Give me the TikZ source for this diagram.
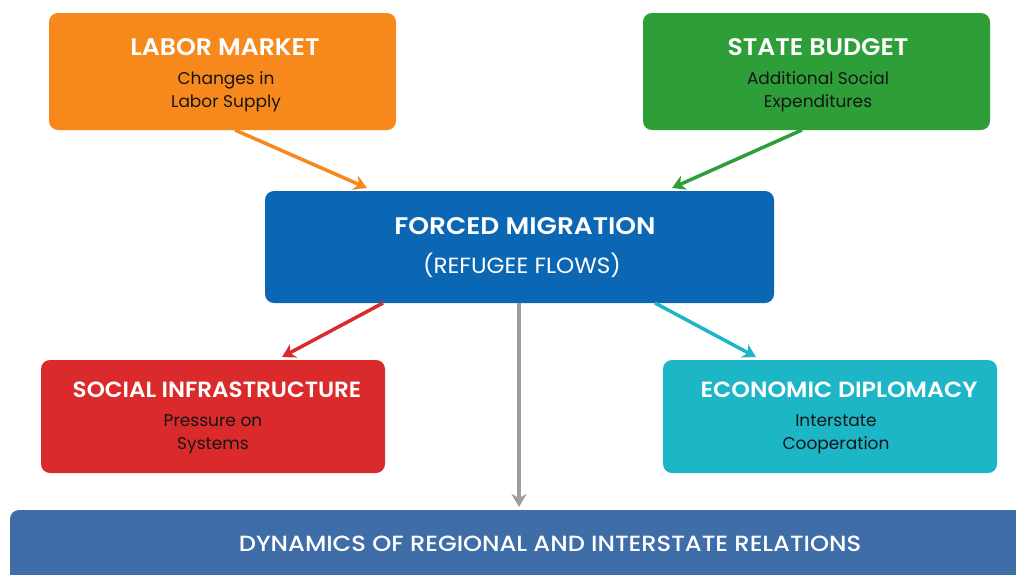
\documentclass[tikz,border=0pt]{standalone}
\usepackage{fontspec}
\setmainfont{Poppins}
\newfontfamily\popb{Poppins}[UprightFont={* SemiBold}]
\newfontfamily\popm{Poppins}[UprightFont={* Medium}]
\usetikzlibrary{arrows.meta}
\definecolor{corange}{HTML}{F7891C}
\definecolor{cgreen}{HTML}{2E9E38}
\definecolor{cblue}{HTML}{0B66B4}
\definecolor{cred}{HTML}{DA2A2B}
\definecolor{ccyan}{HTML}{1CB6C6}
\definecolor{cbottom}{HTML}{3F6DA7}
\definecolor{cgray}{HTML}{9E9E9E}
\definecolor{ctext}{HTML}{151515}
\tikzset{
  box/.style={rounded corners=9pt, draw=none},
  ttl/.style={text=white, font=\popb\fontsize{22}{26}\selectfont, inner sep=0pt},
  sub/.style={text=ctext, font=\fontsize{17}{23}\selectfont, align=center, inner sep=0pt},
  conn/.style={line width=3.5pt, -{Stealth[length=13pt,width=15pt,inset=4pt]}},
}
\begin{document}
\begin{tikzpicture}[x=1pt,y=-1pt]
\useasboundingbox (0,0) rectangle (1016,574);
% boxes
\fill[box, corange] (49,13) rectangle (396,130);
\node (lm) at (222.5,71.5) {};
\fill[box, cgreen] (643,13) rectangle (990,130);
\node (sb) at (816.5,71.5) {};
\fill[box, cblue] (265,191) rectangle (774,303);
\node (fm) at (519.5,247) {};
\fill[box, cred] (41,360) rectangle (385,473);
\node (si) at (213,416.5) {};
\fill[box, ccyan] (663,360) rectangle (997,473);
\node (ed) at (830,416.5) {};
\fill[box, cbottom] (10,510) rectangle (1030,600);
\node (bt) at (513,544) {};
% texts
\node[ttl, font=\popb\fontsize{24}{28}\selectfont, xscale=1.05] (lmt) at (225,47) {LABOR MARKET};
\node[sub] (lms) at (226,92) {Changes in\\Labor Supply};
\node[ttl, font=\popb\fontsize{24}{28}\selectfont, xscale=1.05] (sbt) at (818,47) {STATE BUDGET};
\node[sub] (sbs) at (818,92) {Additional Social\\Expenditures};
\node[ttl, font=\popb\fontsize{24}{28}\selectfont, xscale=1.1] (fmt) at (525,226) {FORCED MIGRATION};
\node[text=white, font=\fontsize{22}{26}\selectfont, inner sep=0pt, xscale=1.05] (fms) at (522,265) {(REFUGEE FLOWS)};
\node[ttl, xscale=1.05] (sit) at (217,390) {SOCIAL INFRASTRUCTURE};
\node[sub] (sis) at (213,434) {Pressure on\\Systems};
\node[ttl, xscale=1.08] (edt) at (839,390) {ECONOMIC DIPLOMACY};
\node[sub] (eds) at (836,434) {Interstate\\Cooperation};
\node[text=white, font=\popm\fontsize{22}{26}\selectfont, inner sep=0pt, xscale=1.1] (btt) at (550,544) {DYNAMICS OF REGIONAL AND INTERSTATE RELATIONS};
% connectors
\coordinate (a1) at (235,130); \coordinate (a2) at (367,188);
\coordinate (b1) at (802,130); \coordinate (b2) at (672,188);
\coordinate (c1) at (383,303); \coordinate (c2) at (282,357);
\coordinate (d1) at (655,303); \coordinate (d2) at (756,357);
\coordinate (e1) at (519,303); \coordinate (e2) at (519,507);
\draw[conn, corange] (a1) -- (a2);
\draw[conn, cgreen] (b1) -- (b2);
\draw[conn, cred] (c1) -- (c2);
\draw[conn, ccyan] (d1) -- (d2);
\draw[conn, cgray] (e1) -- (e2);
\end{tikzpicture}
\end{document}
